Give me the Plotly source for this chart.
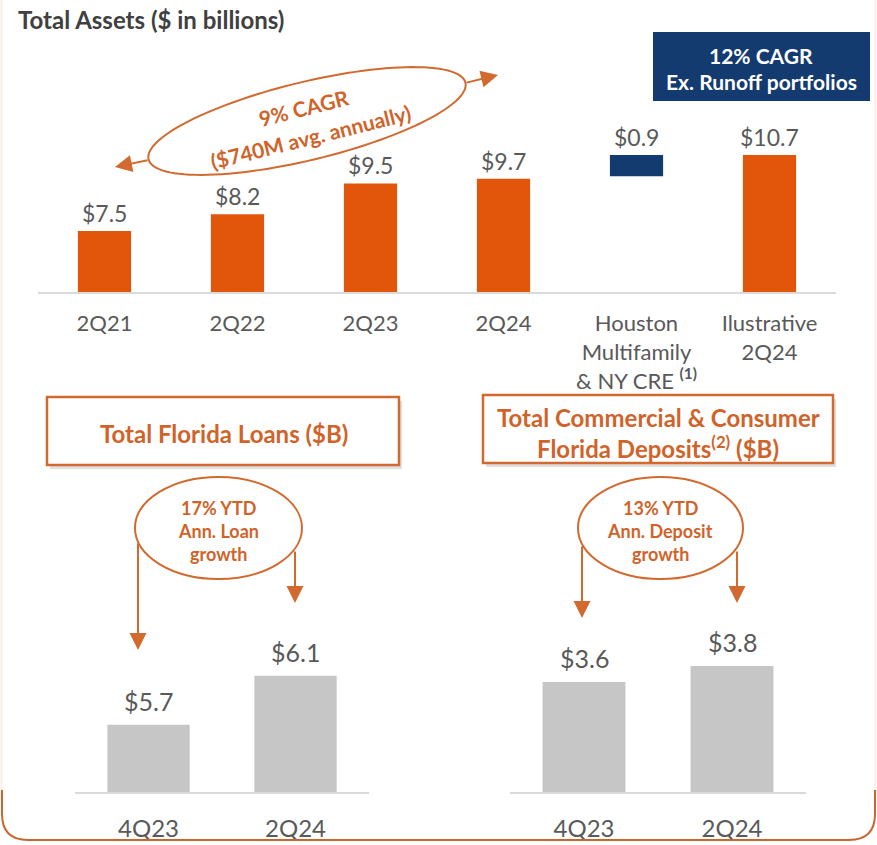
import numpy as np
import plotly.graph_objects as go

# ---------------- data ----------------
top_categories = ["2Q21", "2Q22", "2Q23", "2Q24",
                  "Houston<br>Multifamily<br>& NY CRE <sup><b>(1)</b></sup>",
                  "Ilustrative<br>2Q24"]
total_assets = [7.5, 8.2, 9.5, 9.7]          # 2Q21..2Q24
runoff_portfolios = 0.9                      # Houston Multifamily & NY CRE
illustrative_2q24 = 10.7

loan_categories = ["4Q23", "2Q24"]
florida_loans = [5.7, 6.1]

deposit_categories = ["4Q23", "2Q24"]
florida_deposits = [3.6, 3.8]

# ---------------- style ----------------
W, H = 877, 845
FONT = "Lato"
ORANGE_BAR = "#E2560C"
NAVY = "#133B70"
ORANGE_LINE = "#D2692E"
ORANGE_TEXT = "#D0632A"
GRAY_BAR = "#C6C6C6"
TEXT_GRAY = "#595959"
AXIS_GRAY = "#DADADA"


def px(x):
    return x / W


def py(y):
    return 1 - y / H


def note(x, y, text, size, color, bold=True, angle=0, xanchor="center"):
    return dict(x=px(x), y=py(y), xref="paper", yref="paper", showarrow=False,
                xanchor=xanchor, yanchor="middle", textangle=angle,
                text=f"<b>{text}</b>" if bold else text,
                font=dict(family=FONT, size=size, color=color))


fig = go.Figure()

# top chart: total assets with runoff step
top_y = total_assets + [runoff_portfolios, illustrative_2q24]
top_base = [0, 0, 0, 0, illustrative_2q24 - runoff_portfolios, 0]
top_colors = [ORANGE_BAR] * 4 + [NAVY, ORANGE_BAR]
fig.add_trace(go.Bar(x=top_categories, y=top_y, base=top_base,
                     marker=dict(color=top_colors, line=dict(width=0)),
                     width=0.4, xaxis="x", yaxis="y", hoverinfo="skip"))

fig.add_trace(go.Bar(x=loan_categories, y=florida_loans,
                     marker=dict(color=GRAY_BAR, line=dict(width=0)),
                     width=0.56, xaxis="x2", yaxis="y2", hoverinfo="skip"))
fig.add_trace(go.Bar(x=deposit_categories, y=florida_deposits,
                     marker=dict(color=GRAY_BAR, line=dict(width=0)),
                     width=0.56, xaxis="x3", yaxis="y3", hoverinfo="skip"))

annotations = []

# value labels
top_tops = [b + v for b, v in zip(top_base, top_y)]
top_texts = [f"${v:.1f}" for v in top_y]
for c, t, txt in zip(top_categories, top_tops, top_texts):
    annotations.append(dict(x=c, y=t, xref="x", yref="y", text=txt, showarrow=False,
                            xanchor="center", yanchor="bottom", yshift=2,
                            font=dict(family=FONT, size=23, color=TEXT_GRAY)))
for c, v in zip(loan_categories, florida_loans):
    annotations.append(dict(x=c, y=v, xref="x2", yref="y2", text=f"${v:.1f}", showarrow=False,
                            xanchor="center", yanchor="bottom", yshift=7,
                            font=dict(family=FONT, size=25, color=TEXT_GRAY)))
for c, v in zip(deposit_categories, florida_deposits):
    annotations.append(dict(x=c, y=v, xref="x3", yref="y3", text=f"${v:.1f}", showarrow=False,
                            xanchor="center", yanchor="bottom", yshift=7,
                            font=dict(family=FONT, size=25, color=TEXT_GRAY)))

# title
annotations.append(note(16, 19, "Total Assets ($ in billions)", 24, "#404040", xanchor="left"))

# navy box text
annotations.append(note(761, 56, "12% CAGR", 21, "white"))
annotations.append(note(761, 82, "Ex. Runoff portfolios", 21, "white"))

# CAGR ellipse text
annotations.append(note(304, 108, "9% CAGR", 21, ORANGE_TEXT, angle=-14))
annotations.append(note(311, 137, "($740M avg. annually)", 21, ORANGE_TEXT, angle=-14))

# orange box headings
annotations.append(note(224, 433, "Total Florida Loans ($B)", 24, ORANGE_TEXT))
annotations.append(note(658, 417, "Total Commercial & Consumer", 24, ORANGE_TEXT))
annotations.append(note(658, 447, "Florida Deposits<sup>(2)</sup> ($B)", 24, ORANGE_TEXT))

# growth circles text
for cx, lines in [(218, ["17% YTD", "Ann. Loan", "growth"]),
                  (660, ["13% YTD", "Ann. Deposit", "growth"])]:
    for ly, ln in zip([508, 531, 554], lines):
        annotations.append(note(cx, ly, ln, 18, ORANGE_TEXT))

# arrows (tip, tail)
arrows = [((115, 167), (149, 160)), ((498, 75), (465, 83)),
          ((138, 650), (138, 542)), ((295, 603), (295, 550)),
          ((582, 618), (582, 545)), ((737, 603), (737, 550))]
for (tx, ty), (sx, sy) in arrows:
    annotations.append(dict(x=px(tx), y=py(ty), xref="paper", yref="paper", text="",
                            showarrow=True, ax=sx - tx, ay=sy - ty, axref="pixel", ayref="pixel",
                            arrowhead=2, arrowsize=1.7, arrowwidth=2, arrowcolor=ORANGE_LINE,
                            standoff=0, startstandoff=0))

shapes = []
# outer rounded border
r = 26
side_path = (f"M {px(1.5)},{py(0)} L {px(1.5)},{py(800)} "
             f"M {px(875.5)},{py(0)} L {px(875.5)},{py(800)}")
shapes.append(dict(type="path", path=side_path, xref="paper", yref="paper",
                   line=dict(color="#FBEEE6", width=2), layer="below"))
border_path2 = (f"M {px(2)},{py(790)} L {px(2)},{py(840 - r)} "
                f"Q {px(2)},{py(840)} {px(2 + r)},{py(840)} "
                f"L {px(875 - r)},{py(840)} Q {px(875)},{py(840)} {px(875)},{py(840 - r)} "
                f"L {px(875)},{py(790)}")
shapes.append(dict(type="path", path=border_path2, xref="paper", yref="paper",
                   line=dict(color="#C8662F", width=2)))

# navy box
shapes.append(dict(type="rect", xref="paper", yref="paper", x0=px(653), x1=px(870),
                   y0=py(101), y1=py(32), fillcolor=NAVY, line=dict(width=0), layer="below"))

# orange heading boxes with shadow
for x0, x1, y0, y1 in [(47, 399, 397, 465), (483, 833, 395, 463)]:
    shapes.append(dict(type="rect", xref="paper", yref="paper", x0=px(x0 + 3), x1=px(x1 + 3),
                       y0=py(y1 + 4), y1=py(y0 + 4), fillcolor="rgba(0,0,0,0.12)",
                       line=dict(width=0), layer="below"))
    shapes.append(dict(type="rect", xref="paper", yref="paper", x0=px(x0), x1=px(x1),
                       y0=py(y1), y1=py(y0), fillcolor="white",
                       line=dict(color=ORANGE_LINE, width=2.5), layer="below"))

# rotated CAGR ellipse
t = np.linspace(0, 2 * np.pi, 121)
th = np.deg2rad(-13.6)
cx, cy, a, b = 307, 121, 163, 39
ex = cx + a * np.cos(t) * np.cos(th) - b * np.sin(t) * np.sin(th)
ey = cy + a * np.cos(t) * np.sin(th) + b * np.sin(t) * np.cos(th)
epath = "M " + " L ".join(f"{px(xx):.5f},{py(yy):.5f}" for xx, yy in zip(ex, ey)) + " Z"
shapes.append(dict(type="path", path=epath, xref="paper", yref="paper",
                   line=dict(color=ORANGE_LINE, width=2)))

# growth ellipses
for x0, x1 in [(135, 302), (578, 743)]:
    shapes.append(dict(type="circle", xref="paper", yref="paper", x0=px(x0), x1=px(x1),
                       y0=py(579), y1=py(477), line=dict(color=ORANGE_LINE, width=2)))

axis_common = dict(type="category", showline=True, linecolor=AXIS_GRAY, linewidth=2,
                   showgrid=False, zeroline=False, ticks="outside",
                   tickcolor="rgba(0,0,0,0)", fixedrange=True)

fig.update_layout(
    width=W, height=H, margin=dict(l=0, r=0, t=0, b=0),
    paper_bgcolor="white", plot_bgcolor="rgba(0,0,0,0)",
    showlegend=False, barmode="overlay",
    font=dict(family=FONT, color=TEXT_GRAY),
    xaxis=dict(domain=[px(38), px(836)], anchor="y", ticklen=11,
               categoryorder="array", categoryarray=top_categories,
               tickfont=dict(family=FONT, size=22, color=TEXT_GRAY), **axis_common),
    yaxis=dict(domain=[py(292), py(140)], range=[4.93, 4.93 + 152 / 23.75],
               visible=False, fixedrange=True, anchor="x"),
    xaxis2=dict(domain=[px(75), px(369)], anchor="y2", ticklen=14,
                tickfont=dict(family=FONT, size=24, color=TEXT_GRAY), **axis_common),
    yaxis2=dict(domain=[py(792), py(640)], range=[5.15, 5.15 + 152 / 122.5],
                visible=False, fixedrange=True, anchor="x2"),
    xaxis3=dict(domain=[px(510), px(806)], anchor="y3", ticklen=14,
                tickfont=dict(family=FONT, size=24, color=TEXT_GRAY), **axis_common),
    yaxis3=dict(domain=[py(792), py(640)], range=[2.225, 2.225 + 152 / 80],
                visible=False, fixedrange=True, anchor="x3"),
    annotations=annotations,
    shapes=shapes,
)

fig.write_html("out.html", config={"displayModeBar": False},
               post_script="document.body.style.margin='0';document.body.style.overflow='hidden';")
